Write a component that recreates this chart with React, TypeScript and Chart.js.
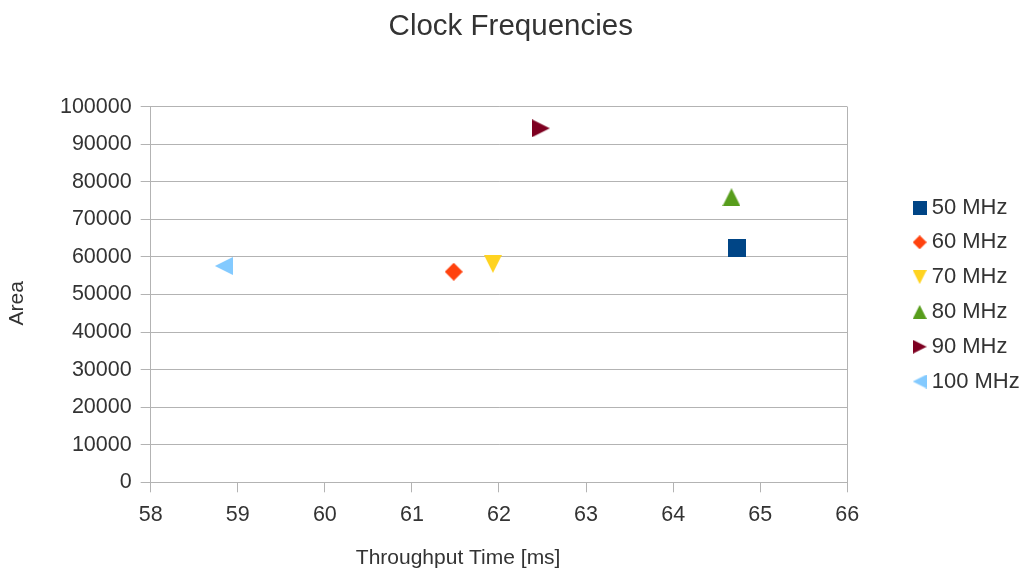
import React, { useEffect, useRef } from "react";
import { Chart, registerables } from "chart.js";

Chart.register(...registerables);

// Clock frequency variants: throughput time (ms) against area
const seriesNames = ["50 MHz", "60 MHz", "70 MHz", "80 MHz", "90 MHz", "100 MHz"];
const throughputMs = [64.73, 61.48, 61.93, 64.67, 62.48, 58.84];
const areaValues = [62300, 56070, 58150, 75900, 94250, 57590];
const seriesColors = ["#004586", "#ff420e", "#ffd320", "#579d1c", "#7e0021", "#83caff"];
const markerShapes = ["square", "diamond", "down", "up", "right", "left"];

const xMin = 58;
const xMax = 66;
const yMin = 0;
const yMax = 100000;
const yStep = 10000;

const chartTitle = "Clock Frequencies";
const xTitle = "Throughput Time [ms]";
const yTitle = "Area";

const FONT = "'Liberation Sans', Arial, sans-serif";
const TEXT = "#333333";
const GRID = "#b3b3b3";

function makeMarker(shape: string, color: string, size: number): HTMLCanvasElement {
  const c = document.createElement("canvas");
  c.width = size;
  c.height = size;
  const g = c.getContext("2d")!;
  const s = size;
  g.fillStyle = color;
  g.beginPath();
  switch (shape) {
    case "square":
      g.rect(0, 0, s, s);
      break;
    case "diamond":
      g.moveTo(s / 2, 0);
      g.lineTo(s, s / 2);
      g.lineTo(s / 2, s);
      g.lineTo(0, s / 2);
      break;
    case "down":
      g.moveTo(0, 0);
      g.lineTo(s, 0);
      g.lineTo(s / 2, s);
      break;
    case "up":
      g.moveTo(s / 2, 0);
      g.lineTo(s, s);
      g.lineTo(0, s);
      break;
    case "right":
      g.moveTo(0, 0);
      g.lineTo(s, s / 2);
      g.lineTo(0, s);
      break;
    case "left":
      g.moveTo(s, 0);
      g.lineTo(0, s / 2);
      g.lineTo(s, s);
      break;
  }
  g.closePath();
  g.fill();
  return c;
}

export default function App() {
  const canvasRef = useRef<HTMLCanvasElement | null>(null);

  useEffect(() => {
    document.body.style.margin = "0";
    const canvas = canvasRef.current;
    if (!canvas) return;

    const plotMarkers = markerShapes.map((m, i) => makeMarker(m, seriesColors[i], 18));
    const legendMarkers = markerShapes.map((m, i) => makeMarker(m, seriesColors[i], 14));

    const datasets = seriesNames.map((name, i) => ({
      label: name,
      data: [{ x: throughputMs[i], y: areaValues[i] }],
      pointStyle: plotMarkers[i],
      backgroundColor: seriesColors[i],
      borderColor: seriesColors[i],
      showLine: false,
    }));

    const chart = new Chart(canvas, {
      type: "scatter",
      data: { datasets },
      options: {
        animation: false,
        responsive: false,
        events: [],
        layout: { padding: { left: 0, right: -2.7, top: 0, bottom: 0 } },
        plugins: {
          tooltip: { enabled: false },
          title: {
            display: true,
            text: chartTitle + " ",
            color: TEXT,
            font: { family: FONT, size: 29.5, weight: "normal" },
            padding: { top: 9, bottom: 62.3 },
          },
          legend: {
            position: "right",
            fullSize: false,
            align: "center",
            labels: {
              usePointStyle: true,
              boxWidth: 2,
              padding: 12.8,
              color: TEXT,
              font: { family: FONT, size: 22 },
              generateLabels: (ch: any) =>
                ch.data.datasets.map((ds: any, i: number) => ({
                  text: ds.label,
                  fillStyle: seriesColors[i],
                  strokeStyle: seriesColors[i],
                  lineWidth: 0,
                  pointStyle: legendMarkers[i],
                  hidden: false,
                  datasetIndex: i,
                  fontColor: TEXT,
                })),
            },
          },
        },
        scales: {
          x: {
            type: "linear",
            min: xMin,
            max: xMax,
            ticks: {
              stepSize: 1,
              color: TEXT,
              padding: 10,
              font: { family: FONT, size: 21.5 },
            },
            grid: {
              color: (ctx: any) => (ctx.tick && ctx.tick.value === xMax ? GRID : "rgba(0,0,0,0)"),
              tickColor: GRID,
              tickLength: 10,
              lineWidth: 1,
            },
            border: { display: true, color: GRID },
            title: {
              display: true,
              text: xTitle + " ".repeat(14),
              color: TEXT,
              font: { family: FONT, size: 21 },
              padding: { top: 0, bottom: 0 },
            },
            afterFit: (s: any) => {
              s.height = 88.7;
            },
          },
          y: {
            type: "linear",
            min: yMin,
            max: yMax,
            ticks: {
              stepSize: yStep,
              color: TEXT,
              padding: 9,
              font: { family: FONT, size: 21.5 },
              callback: (v: any) => String(v),
            },
            grid: { color: GRID, tickColor: GRID, tickLength: 10, lineWidth: 1 },
            border: { display: true, color: GRID },
            title: {
              display: true,
              text: yTitle + "   ",
              color: TEXT,
              font: { family: FONT, size: 21 },
              padding: { top: 5, bottom: 0 },
            },
            afterFit: (s: any) => {
              s.width = 150.7;
            },
          },
          gap: {
            type: "linear",
            position: "right",
            display: true,
            grid: { display: false },
            border: { display: false },
            ticks: { display: false },
            afterFit: (s: any) => {
              s.width = 58.6;
            },
          },
        },
      } as any,
    });

    return () => chart.destroy();
  }, []);

  return (
    <div style={{ width: 1027, height: 571, background: "#ffffff" }}>
      <canvas ref={canvasRef} width={1027} height={571} />
    </div>
  );
}
